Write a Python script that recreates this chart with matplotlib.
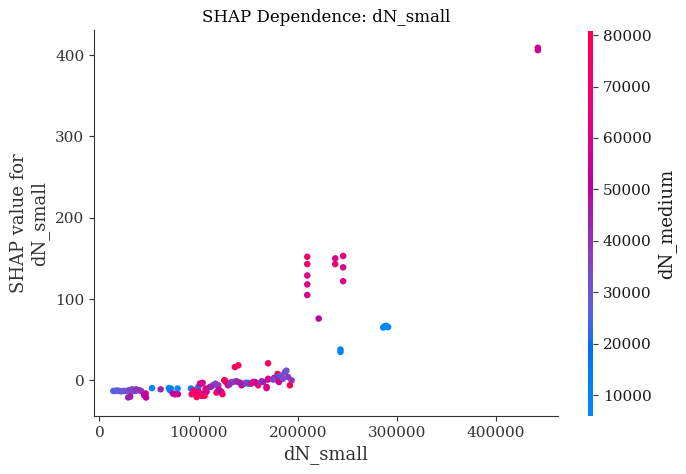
import numpy as np
import matplotlib
matplotlib.use("Agg")
import matplotlib.pyplot as plt
from matplotlib.colors import ListedColormap

plt.rcParams['font.family'] = ['DejaVu Serif']

# ---- data ----
dn_small = [
    14000, 16000, 18000, 20000, 22000, 24000, 26000, 28000, 30000, 32000,
    34000, 36000, 38000, 40000, 42000, 33000, 37000, 29000, 31000, 45000,
    46500, 47000, 53000, 61700, 70000, 72000, 71000, 78800, 74000, 76000,
    79000, 92200, 99600, 102300, 104000, 96000, 99000, 103000, 105000, 93000,
    98000, 108000, 111400, 114800, 119800, 123000, 124000, 126500, 127500, 133200,
    140000, 143300, 148000, 150000, 155000, 160000, 163500, 168500, 170000, 170000,
    179600, 178600, 183600, 187000, 188500, 190300, 193700, 192000, 179600, 181000,
    136600, 140000, 125800, 114700, 117000, 134900, 138000, 150000, 158000, 165000,
    170100, 176000, 185000, 101300, 107000, 112000, 119800, 129500, 146000, 156700,
    168500, 95000, 100000, 106000, 118000, 121000, 131000, 142000, 153000, 175000,
    209500, 209500, 209500, 209500, 209500, 221000, 237700, 237700, 245700, 245700,
    245700, 243000, 243000, 286000, 287500, 289000, 290000, 291000, 442000, 442000,
]
shap_vals = [
    -13, -13, -12.5, -13, -13.5, -13, -13, -13, -12, -14,
    -12, -13, -12, -12, -13, -11, -11, -21, -20, -18,
    -16, -21, -9.5, -11, -9.5, -10, -12, -10, -16, -17,
    -17, -10, -8, -4, -3, -15, -18, -19, -16, -17,
    -20.5, -14, -8, -6, -6, -14, -17, 0, -2, -2,
    -2, -6, -3, -3, -2, -6, -1, -8, 1, 21,
    8, 4, 6, 10, 12, 4, 0, -6, 0, -2,
    16.4, 18.5, 0, -6, -4, -2, -1, -4, -3, -2,
    2, 3, 2, -4, -10, -8, -12, -6, -4, -2,
    -9.5, -12, -14, -19, -15, -12, -5, -3, -4, 1,
    152, 143, 129, 118, 105, 76, 150, 143, 153, 139,
    122, 35, 38, 65, 66.5, 67, 66, 65.5, 409, 406,
]
dn_medium = [
    26000, 26000, 27000, 28000, 28000, 29000, 30000, 32000, 33000, 34000,
    35000, 36000, 37000, 38000, 40000, 36000, 39000, 43000, 45000, 52000,
    54000, 53000, 9000, 43000, 10000, 9000, 12000, 8000, 52000, 54000,
    55000, 10000, 11000, 58000, 60000, 76000, 74000, 78000, 66000, 72000,
    78000, 56000, 34000, 36000, 38000, 77000, 75000, 77000, 60000, 36000,
    37000, 55000, 38000, 11000, 56000, 76000, 37000, 58000, 76000, 78000,
    76000, 14000, 35000, 30000, 32000, 38000, 40000, 77000, 40000, 58000,
    78000, 77000, 77000, 35000, 38000, 36000, 42000, 14000, 40000, 44000,
    58000, 46000, 34000, 60000, 62000, 44000, 58000, 60000, 40000, 56000,
    58000, 74000, 66000, 76000, 70000, 50000, 42000, 46000, 64000, 36000,
    72000, 70000, 60000, 60000, 58000, 50000, 62000, 66000, 64000, 60000,
    60000, 10000, 10000, 7000, 7000, 7500, 7000, 7000, 57000, 57000,
]
x_ticks = [0, 100000, 200000, 300000, 400000]
y_ticks = [0, 100, 200, 300, 400]
cbar_ticks = [10000, 20000, 30000, 40000, 50000, 60000, 70000, 80000]


# ---- SHAP-like red/blue colormap (LCh interpolation) ----
def lch2rgb(L, C, h):
    a = C * np.cos(h)
    b = C * np.sin(h)
    fy = (L + 16.0) / 116.0
    fx = fy + a / 500.0
    fz = fy - b / 200.0

    def finv(t):
        return np.where(t > 6 / 29, t ** 3, 3 * (6 / 29) ** 2 * (t - 4 / 29))

    X = 0.95047 * finv(fx)
    Y = 1.0 * finv(fy)
    Z = 1.08883 * finv(fz)
    M = np.array([[3.2406, -1.5372, -0.4986],
                  [-0.9689, 1.8758, 0.0415],
                  [0.0557, -0.2040, 1.0570]])
    rgb = M @ np.array([X, Y, Z])
    rgb = np.where(rgb <= 0.0031308, 12.92 * rgb, 1.055 * np.abs(rgb) ** (1 / 2.4) - 0.055)
    return np.clip(rgb, 0, 1)


blue_lch = [54., 70., 4.6588]
red_lch = [54., 90., 0.35470565 + 2 * np.pi]
l_mid = 40.
n = 100
Ls = list(np.linspace(blue_lch[0], l_mid, n // 2)) + list(np.linspace(l_mid, red_lch[0], n // 2))
Cs = np.linspace(blue_lch[1], red_lch[1], n)
Hs = np.linspace(blue_lch[2], red_lch[2], n)
colors = [lch2rgb(l, c, h) for l, c, h in zip(Ls, Cs, Hs)]
red_blue = ListedColormap(colors)

# ---- figure ----
fig = plt.figure(figsize=(6.86, 4.74), dpi=100)
ax = fig.add_axes([0.137, 0.122, 0.676, 0.815])
cax = fig.add_axes([0.857, 0.122, 0.0075, 0.8125])

sc = ax.scatter(dn_small, shap_vals, c=dn_medium, cmap=red_blue, vmin=5900, vmax=80800,
                s=22, linewidth=0, alpha=1)

ax.set_xlim(-5500, 462000)
ax.set_ylim(-44, 431)
ax.set_xticks(x_ticks)
ax.set_yticks(y_ticks)
ax.spines['top'].set_visible(False)
ax.spines['right'].set_visible(False)
for sp in ['left', 'bottom']:
    ax.spines[sp].set_color('#333333')
ax.tick_params(labelsize=11, colors='#333333', labelcolor='#333333')
ax.set_xlabel('dN_small', fontsize=13, color='#333333')
ax.set_ylabel('SHAP value for\ndN_small', fontsize=13, color='#333333')
ax.set_title('SHAP Dependence: dN_small', fontsize=12)

cb = fig.colorbar(sc, cax=cax)
cb.outline.set_visible(False)
cb.set_ticks(cbar_ticks)
cb.ax.tick_params(labelsize=11, colors='#333333', labelcolor='#1a1a1a')
cb.set_label('dN_medium', fontsize=13, color='#1a1a1a')

fig.savefig('out.png', dpi=100)
